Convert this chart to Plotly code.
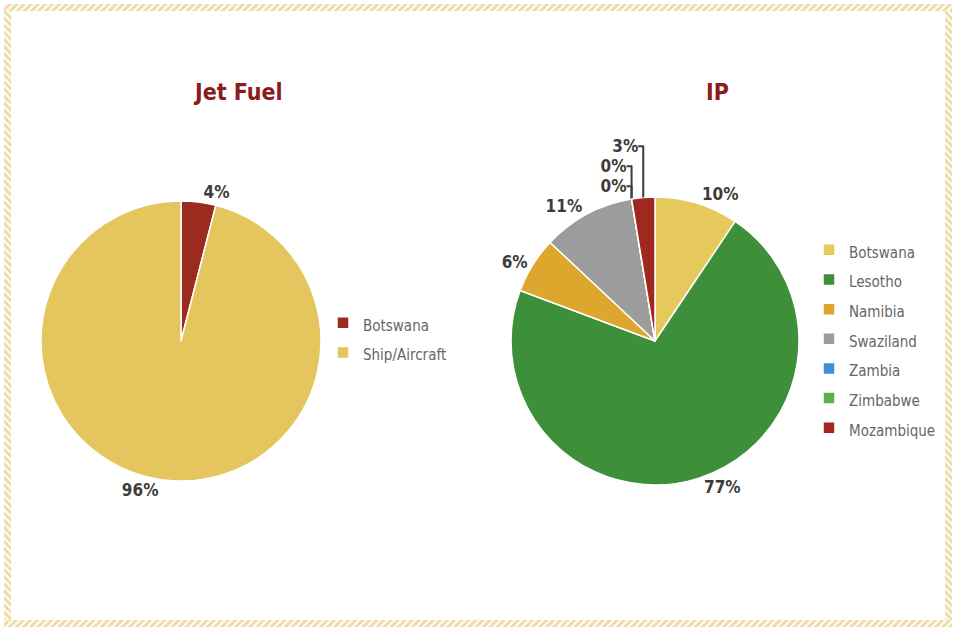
import plotly.graph_objects as go

# ---- data ----
jet_labels = ["Botswana", "Ship/Aircraft"]
jet_values = [4, 96]
jet_text = ["4%", "96%"]
jet_colors = ["#9B2B1F", "#E5C55E"]

ip_labels = ["Botswana", "Lesotho", "Namibia", "Swaziland", "Zambia", "Zimbabwe", "Mozambique"]
ip_values = [9.4, 71.3, 6.3, 10.4, 0, 0, 2.6]
ip_text = ["10%", "77%", "6%", "11%", "0%", "0%", "3%"]
ip_colors = ["#E6C95C", "#3D8F3A", "#DDA72E", "#9C9C9C", "#3E8ED8", "#5CB04A", "#A0291F"]

FONT = "Liberation Sans Narrow, DejaVu Sans Condensed, Roboto Condensed, Arial Narrow, sans-serif"
W, H = 956, 629


def leg_label(s, tag):
    # tag keeps the two legends' entries distinct (pies share legend items by label)
    return f"<span style='font-size:15px{tag}'>{s}</span>"


fig = go.Figure()

# decorative hatched frame (pixel coordinates on a hidden full-page axis)
def rects(boxes):
    xs, ys = [], []
    for x0, y0, x1, y1 in boxes:
        xs += [x0, x1, x1, x0, x0, None]
        ys += [y0, y0, y1, y1, y0, None]
    return xs, ys

tb_x, tb_y = rects([(4, 4, 952, 11), (4, 620, 952, 627)])
lr_x, lr_y = rects([(4, 4, 11, 627), (945, 4, 952, 627)])
for xs, ys, shp in [(lr_x, lr_y, "\\"), (tb_x, tb_y, "/")]:
    fig.add_trace(go.Scatter(
        x=xs, y=ys, mode="lines", fill="toself", line=dict(width=0, color="rgba(0,0,0,0)"),
        fillpattern=dict(shape=shp, fgcolor="#DDB852", bgcolor="white", size=5, solidity=0.6),
        fillcolor="white", showlegend=False, hoverinfo="skip"))

fig.add_trace(go.Pie(
    labels=[leg_label(l, "") for l in jet_labels], values=jet_values, text=jet_text,
    textinfo="text", textposition="outside", sort=False, direction="clockwise", rotation=0,
    marker=dict(colors=jet_colors, line=dict(color="white", width=1.5)),
    textfont=dict(family=FONT, size=17, color="#3C3C3C", weight="bold"),
    domain=dict(x=[41 / W, 321 / W], y=[1 - 481 / H, 1 - 201 / H]),
    legend="legend", hoverinfo="skip"))

fig.add_trace(go.Pie(
    labels=[leg_label(l, ";") for l in ip_labels], values=ip_values, text=ip_text,
    textinfo="text", textposition="outside", sort=False, direction="clockwise", rotation=0,
    marker=dict(colors=ip_colors, line=dict(color="white", width=1.5)),
    textfont=dict(family=FONT, size=17, color="#3C3C3C", weight="bold"),
    domain=dict(x=[511 / W, 799 / W], y=[1 - 485 / H, 1 - 197 / H]),
    legend="legend2", hoverinfo="skip"))

legend_common = dict(font=dict(family=FONT, size=20.5, color="#666666"),
                     bgcolor="rgba(0,0,0,0)", xanchor="left", yanchor="top",
                     itemclick=False, itemdoubleclick=False)

fig.update_layout(
    width=W, height=H, margin=dict(l=0, r=0, t=0, b=0),
    paper_bgcolor="white", plot_bgcolor="rgba(0,0,0,0)",
    xaxis=dict(domain=[0, 1], range=[0, W], visible=False, fixedrange=True),
    yaxis=dict(domain=[0, 1], range=[H, 0], visible=False, fixedrange=True),
    legend=dict(x=323 / W, y=1 - 303 / H, **legend_common),
    legend2=dict(x=809 / W, y=1 - 230 / H, **legend_common),
    annotations=[
        dict(text="<b>Jet Fuel</b>", x=238 / W, y=1 - 92 / H, xref="paper", yref="paper",
             xanchor="center", yanchor="middle", showarrow=False,
             font=dict(family=FONT, size=23, color="#8A1C1C")),
        dict(text="<b>IP</b>", x=717 / W, y=1 - 92 / H, xref="paper", yref="paper",
             xanchor="center", yanchor="middle", showarrow=False,
             font=dict(family=FONT, size=23, color="#8A1C1C")),
    ],
)

fig.write_html("out.html", config={"displayModeBar": False},
               post_script="document.body.style.margin='0';document.body.style.overflow='hidden';")
